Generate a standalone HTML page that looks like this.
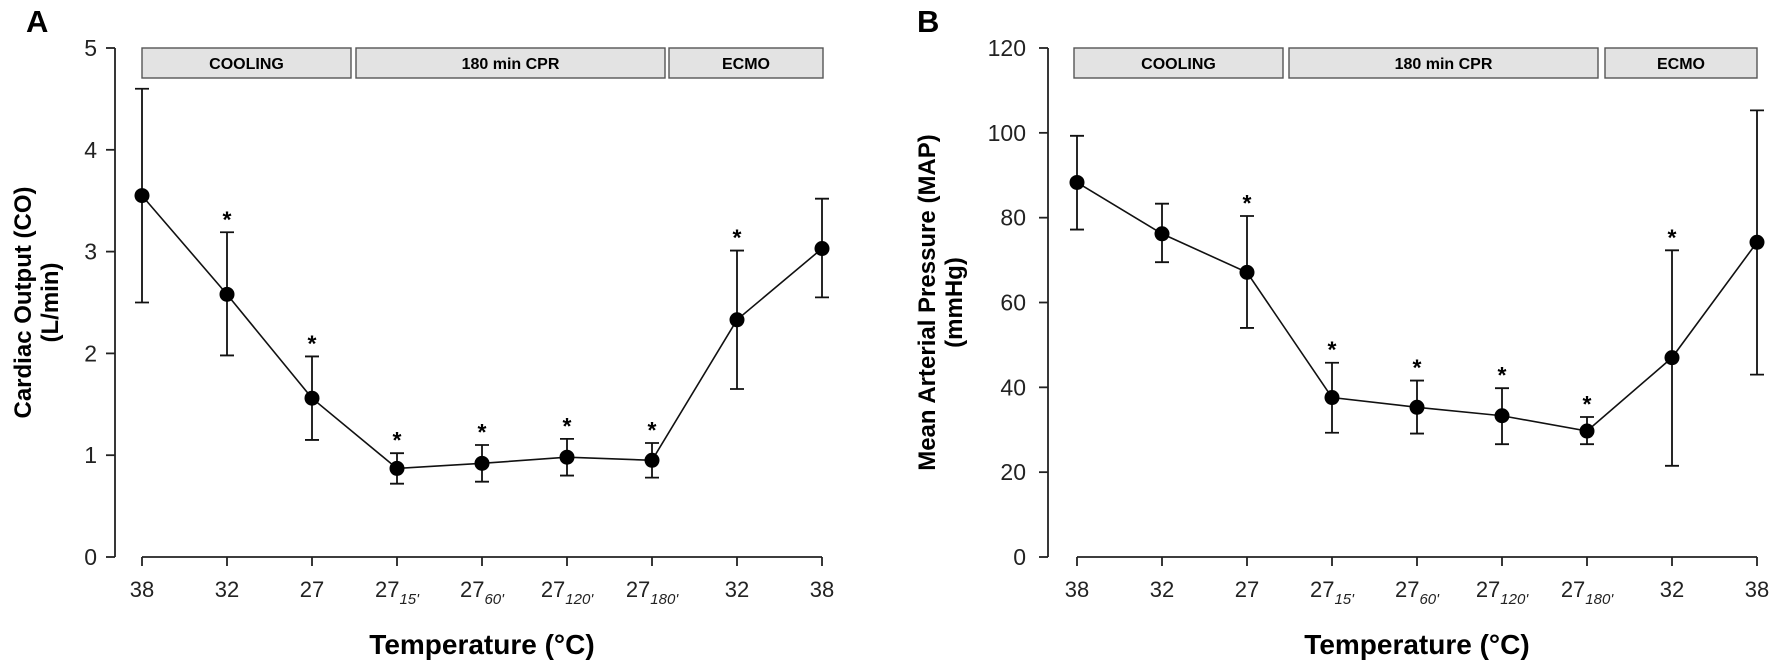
<!DOCTYPE html>
<html><head><meta charset="utf-8"><style>
html,body{margin:0;padding:0;background:#fff;}
svg{display:block;font-family:"Liberation Sans",Arial,sans-serif;}
</style></head><body>
<svg id="chart" width="1770" height="672" viewBox="0 0 1770 672"></svg>
<script>
const categories=["38","32","27","27|15'","27|60'","27|120'","27|180'","32","38"];
const coMean=[3.55,2.58,1.56,0.87,0.92,0.98,0.95,2.33,3.03];
const coLow=[2.50,1.98,1.15,0.72,0.74,0.80,0.78,1.65,2.55];
const coHigh=[4.60,3.19,1.97,1.02,1.10,1.16,1.12,3.01,3.52];
const coStar=[0,1,1,1,1,1,1,1,0];
const coTicks=[0,1,2,3,4,5];
const mapMean=[88.3,76.2,67.1,37.6,35.3,33.3,29.7,47.0,74.2];
const mapLow=[77.2,69.5,54.0,29.3,29.1,26.6,26.6,21.5,43.0];
const mapHigh=[99.3,83.3,80.4,45.8,41.6,39.8,33.0,72.3,105.3];
const mapStar=[0,0,1,1,1,1,1,1,0];
const mapTicks=[0,20,40,60,80,100,120];
const phases=["COOLING","180 min CPR","ECMO"];

const NS="http://www.w3.org/2000/svg";
const svg=document.getElementById('chart');
function mk(tag,attrs,parent,text){const e=document.createElementNS(NS,tag);for(const k in attrs)e.setAttribute(k,attrs[k]);if(text!==undefined)e.textContent=text;(parent||svg).appendChild(e);return e;}

function panel(cfg){
  const g=mk('g',{});
  
  
  const y=v=>cfg.y0-(v-cfg.ymin)/(cfg.ymax-cfg.ymin)*(cfg.y0-cfg.y1);
  const x=i=>cfg.x0+i*cfg.dx;
  const L=mk('text',{x:cfg.lx,y:32,'font-size':31,'font-weight':'bold'},g,cfg.letter);
  
  const ya=mk('line',{x1:cfg.ax,y1:cfg.y1,x2:cfg.ax,y2:cfg.y0,stroke:'#222','stroke-width':1.8},g);
  
  cfg.ticks.forEach(t=>{
    mk('line',{x1:cfg.ax-9,y1:y(t),x2:cfg.ax,y2:y(t),stroke:'#222','stroke-width':1.8},g);
    const tl=mk('text',{x:cfg.ax-cfg.lo,y:y(t)+8,'font-size':23,'text-anchor':'end',fill:'#222'},g,String(t));
    
  });
  const xa=mk('line',{x1:x(0),y1:cfg.y0,x2:x(categories.length-1),y2:cfg.y0,stroke:'#222','stroke-width':1.8},g);
  
  categories.forEach((c,i)=>{
    mk('line',{x1:x(i),y1:cfg.y0,x2:x(i),y2:cfg.y0+9,stroke:'#222','stroke-width':1.8},g);
    const parts=c.split('|');
    const tl=mk('text',{x:x(i),y:cfg.y0+40,'font-size':22,'text-anchor':'middle',fill:'#222'},g);
    
    mk('tspan',{},tl,parts[0]);
    if(parts[1]){mk('tspan',{'font-size':15,dy:7,'font-style':'italic'},tl,parts[1]);}
  });
  cfg.boxes.forEach((b,i)=>{
    const r=mk('rect',{x:b[0],y:48,width:b[1]-b[0],height:30,fill:'#e3e3e3',stroke:'#555','stroke-width':1.4},g);
    
    const t=mk('text',{x:(b[0]+b[1])/2,y:69,'font-size':16,'font-weight':'bold','text-anchor':'middle'},g,phases[i]);
    
  });
  const pts=cfg.mean.map((v,i)=>x(i)+','+y(v)).join(' ');
  const pl=mk('polyline',{points:pts,fill:'none',stroke:'#111','stroke-width':1.6},g);
  
  cfg.mean.forEach((v,i)=>{
    const e=mk('path',{d:`M${x(i)},${y(cfg.low[i])}V${y(cfg.high[i])}M${x(i)-7},${y(cfg.low[i])}h14M${x(i)-7},${y(cfg.high[i])}h14`,stroke:'#111','stroke-width':1.8,fill:'none'},g);
    
    const c=mk('circle',{cx:x(i),cy:y(v),r:7.5,fill:'#000'},g);
    
    if(cfg.star[i]){
      const s=mk('text',{x:x(i),y:y(cfg.high[i])-5,'font-size':23,'font-weight':'bold','text-anchor':'middle'},g,'*');
      
    }
  });
  const xt=mk('text',{x:(x(0)+x(8))/2,y:654,'font-size':28,'font-weight':'bold','text-anchor':'middle'},g,'Temperature (°C)');
  
  const yt=mk('text',{transform:`translate(${cfg.tx},${(cfg.y0+cfg.y1)/2}) rotate(-90)`,'font-size':24,'font-weight':'bold','text-anchor':'middle'},g);
  
  mk('tspan',{x:0,dy:0},yt,cfg.t1);
  mk('tspan',{x:0,dy:27},yt,cfg.t2);
}
panel({name:'panel-a-cardiac-output',letter:'A',lx:26,ax:115,lo:18,x0:142,dx:85,y0:557,y1:48,ymin:0,ymax:5,ticks:coTicks,mean:coMean,low:coLow,high:coHigh,star:coStar,boxes:[[142,351],[356,665],[669,823]],tx:31,t1:'Cardiac Output (CO)',t2:'(L/min)'});
panel({name:'panel-b-map',letter:'B',lx:917,ax:1048,lo:22,x0:1077,dx:85,y0:557,y1:48,ymin:0,ymax:120,ticks:mapTicks,mean:mapMean,low:mapLow,high:mapHigh,star:mapStar,boxes:[[1074,1283],[1289,1598],[1605,1757]],tx:935,t1:'Mean Arterial Pressure (MAP)',t2:'(mmHg)'});
</script>
</body></html>
